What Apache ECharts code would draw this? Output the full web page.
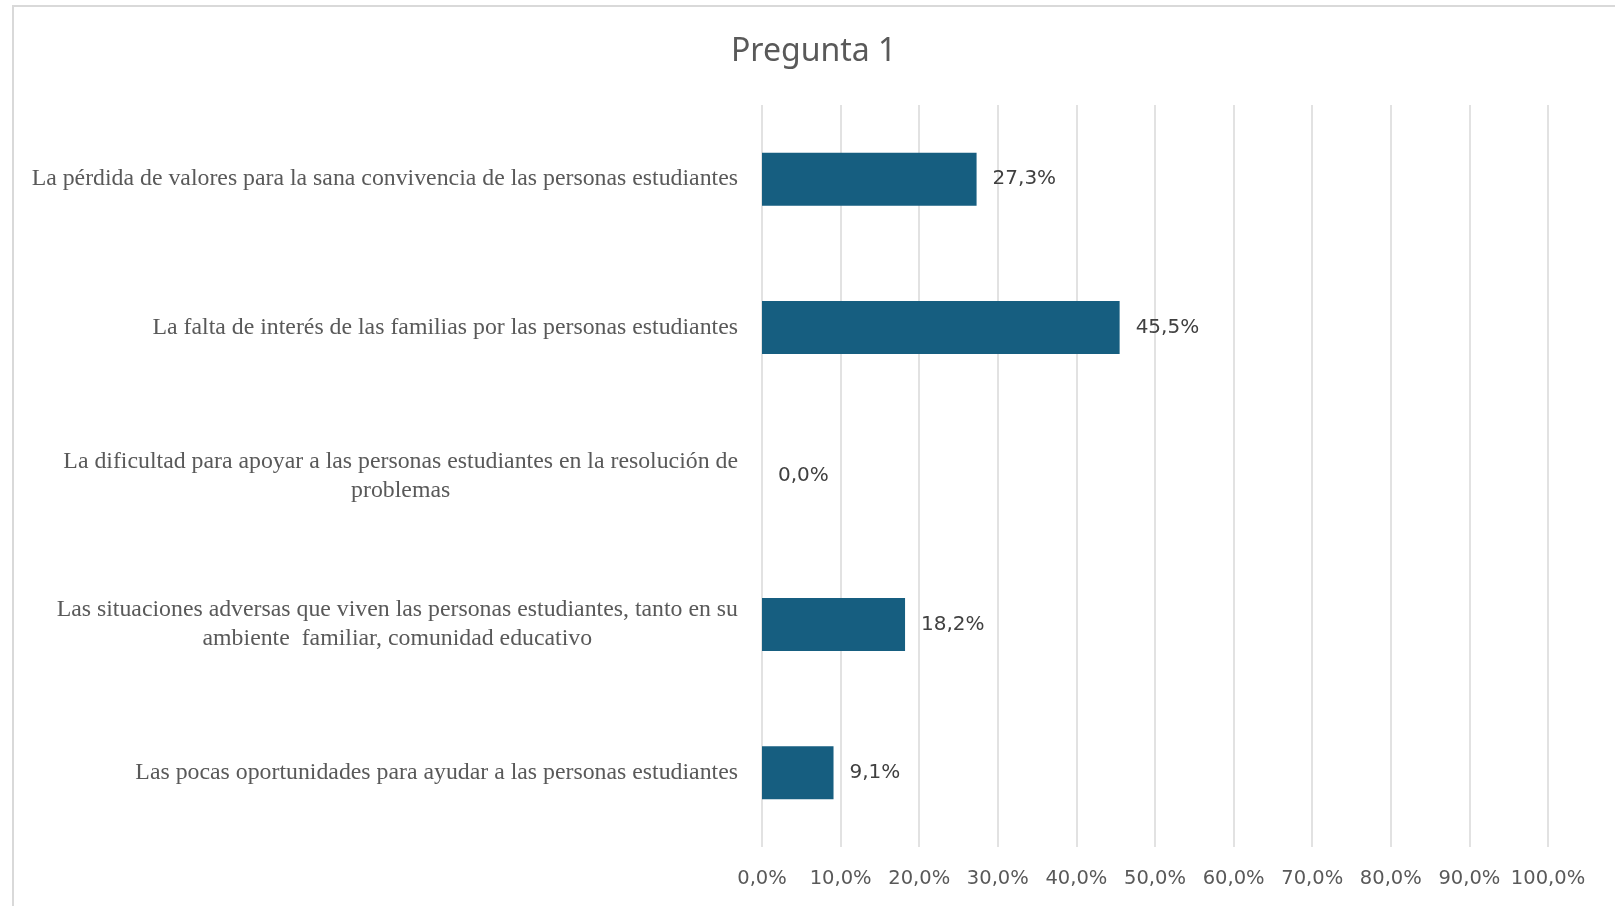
<!DOCTYPE html>
<html>
<head>
<meta charset="utf-8">
<script src="https://cdn.jsdelivr.net/npm/echarts@6/dist/echarts.min.js"></script>
<style>
  html, body { margin: 0; padding: 0; background: #fff; }
  #frame { position: absolute; left: 12px; top: 5px; width: 1615px; height: 906px;
           border-top: 2px solid #d9d9d9; border-left: 2px solid #d9d9d9; }
  #chart { position: absolute; left: 0; top: 0; width: 1615px; height: 906px; }
</style>
</head>
<body>
<div id="frame"></div>
<div id="chart"></div>
<script>
// categorias (de arriba hacia abajo)
const categories = [
  'La pérdida de valores para la sana convivencia de las personas estudiantes',
  'La falta de interés de las familias por las personas estudiantes',
  'La dificultad para apoyar a las personas estudiantes en la resolución de\nproblemas',
  'Las situaciones adversas que viven las personas estudiantes, tanto en su\nambiente  familiar, comunidad educativo',
  'Las pocas oportunidades para ayudar a las personas estudiantes'
];
const values = [27.3, 45.5, 0.0, 18.2, 9.1];
const axisMin = 0;
const axisMax = 100;
const axisStep = 10;

const pct = v => v.toFixed(1).replace('.', ',') + '%';

let chart = echarts.init(document.getElementById('chart'));
chart.setOption({
  animation: false,
  title: {
    text: 'Pregunta 1',
    left: 726,
    top: 31,
    textStyle: {
      color: '#595959',
      fontSize: 32,
      fontWeight: 'normal',
      fontFamily: 'Noto Sans'
    }
  },
  grid: {
    left: 762,
    right: 67,
    top: 105,
    bottom: 59
  },
  xAxis: {
    type: 'value',
    min: axisMin,
    max: axisMax,
    interval: axisStep,
    axisLine: { show: false },
    axisTick: { show: false },
    axisLabel: {
      formatter: v => pct(v),
      color: '#595959',
      fontSize: 19.5,
      fontFamily: 'DejaVu Sans',
      margin: 22
    },
    splitLine: {
      show: true,
      lineStyle: { color: '#d9d9d9', width: 1.5 }  // lineas de la rejilla
    }
  },
  yAxis: {
    type: 'category',
    data: categories,
    inverse: true,
    axisLine: { show: false },
    axisTick: { show: false },
    axisLabel: {
      margin: 24,
      align: 'right',
      formatter: v => v.split('\n').map(s => '{c|' + s + '}').join('\n'),
      rich: {
        c: {
          align: 'center',
          color: '#595959',
          fontSize: 23.8,
          lineHeight: 29,
          fontFamily: 'Liberation Serif'
        }
      }
    }
  },
  series: [
    {
      type: 'bar',
      data: values,
      barWidth: 53,
      itemStyle: { color: '#165E80' },
      label: {
        show: true,
        position: 'right',
        distance: 16,
        formatter: p => pct(p.value),
        color: '#404040',
        fontSize: 20,
        fontFamily: 'DejaVu Sans'
      }
    }
  ]
});
</script>
</body>
</html>
